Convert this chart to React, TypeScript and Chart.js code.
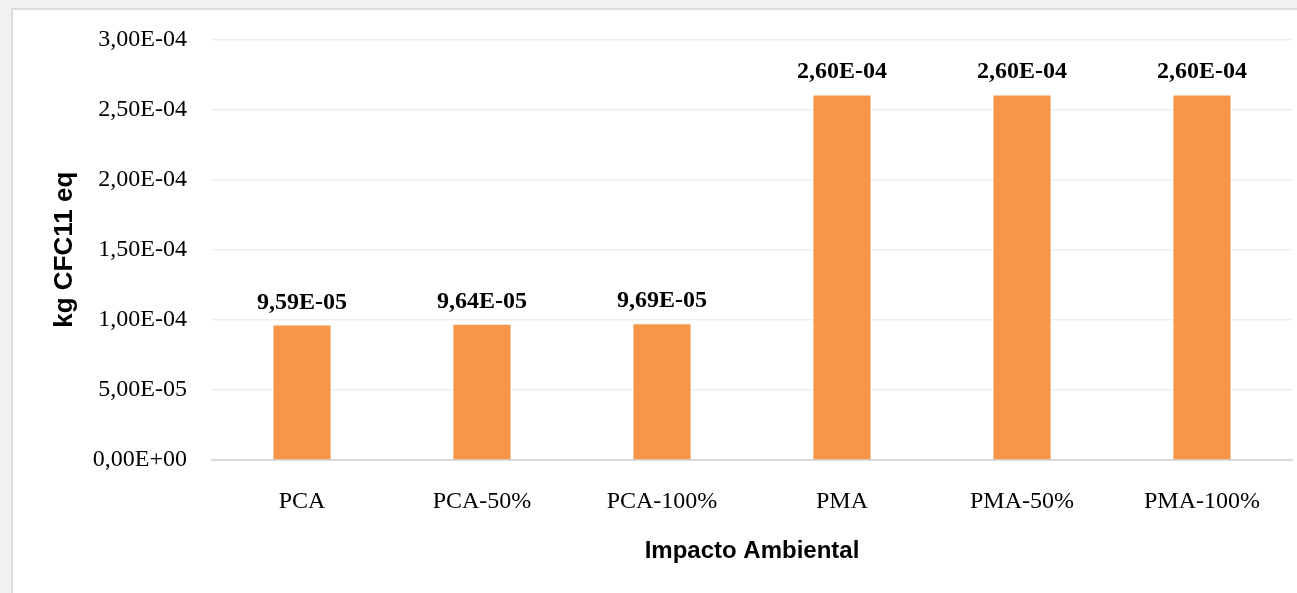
import React, { useEffect, useRef } from "react";
import { Chart, registerables } from "chart.js";

Chart.register(...registerables);

// Ozone depletion per mix (kg CFC-11 eq)
const categories: string[] = ["PCA", "PCA-50%", "PCA-100%", "PMA", "PMA-50%", "PMA-100%"];
const ozoneValues: number[] = [9.59e-5, 9.64e-5, 9.69e-5, 2.6e-4, 2.6e-4, 2.6e-4];
const yTickMin = 0;
const yTickMax = 3e-4;
const yTickStep = 5e-5;

const BAR_COLOR = "#F79646";
const SERIF = "'Liberation Serif', 'Times New Roman', serif";
const SANS = "'Liberation Sans', Arial, sans-serif";

// Excel-like scientific notation with a decimal comma: 9,59E-05
function sci(v: number): string {
  if (v === 0) return "0,00E+00";
  const [mant, exp] = v.toExponential(2).split("e");
  const e = parseInt(exp, 10);
  const sign = e < 0 ? "-" : "+";
  const abs = Math.abs(e).toString().padStart(2, "0");
  return `${mant.replace(".", ",")}E${sign}${abs}`;
}

const valueLabels = {
  id: "valueLabels",
  afterDatasetsDraw(chart: any) {
    const { ctx } = chart;
    const meta = chart.getDatasetMeta(0);
    const data = chart.data.datasets[0].data as number[];
    ctx.save();
    ctx.font = `bold 24px ${SERIF}`;
    ctx.fillStyle = "#000000";
    ctx.textAlign = "center";
    ctx.textBaseline = "alphabetic";
    meta.data.forEach((bar: any, i: number) => {
      ctx.fillText(sci(data[i]), bar.x, bar.y - 17);
    });
    ctx.restore();
  },
};

export default function App() {
  const canvasRef = useRef<HTMLCanvasElement | null>(null);

  useEffect(() => {
    if (!canvasRef.current) return;
    const chart = new Chart(canvasRef.current, {
      type: "bar",
      data: {
        labels: categories,
        datasets: [
          {
            data: ozoneValues,
            backgroundColor: BAR_COLOR,
            borderWidth: 0,
            categoryPercentage: 1,
            barPercentage: 0.317,
          },
        ],
      },
      options: {
        responsive: false,
        animation: false,
        layout: { padding: { left: 0, right: 5, top: 38, bottom: 0 } },
        plugins: {
          legend: { display: false },
          tooltip: { enabled: false },
        },
        scales: {
          x: {
            grid: { display: false, drawTicks: false },
            border: { display: true, color: "#d9d9d9", width: 2 },
            ticks: {
              color: "#000000",
              font: { family: SERIF, size: 24 },
              padding: 27,
              maxRotation: 0,
              autoSkip: false,
            },
            title: {
              display: true,
              text: "Impacto Ambiental",
              color: "#000000",
              font: { family: SANS, size: 24, weight: "bold" },
              padding: { top: 0, bottom: 27 },
            },
            afterFit(scale: any) {
              scale.height = 133;
            },
          },
          y: {
            min: yTickMin,
            max: yTickMax,
            grid: { color: "#efefef", lineWidth: 1.5, drawTicks: false },
            border: { display: false },
            ticks: {
              stepSize: yTickStep,
              color: "#000000",
              font: { family: SERIF, size: 24 },
              padding: 25,
              callback: (v: any) => sci(Number(v)),
            },
            title: {
              display: true,
              text: "kg CFC11 eq",
              color: "#000000",
              font: { family: SANS, size: 26, weight: "bold" },
              padding: { top: 49, bottom: 0 },
            },
            afterFit(scale: any) {
              scale.width = 212;
            },
          },
        },
      },
      plugins: [valueLabels],
    });
    return () => chart.destroy();
  }, []);

  return (
    <div
      style={{
        position: "fixed",
        left: 0,
        top: 0,
        width: 1297,
        height: 593,
        background: "#f1f1f1",
        overflow: "hidden",
      }}
    >
      <div
        style={{
          position: "absolute",
          left: 11,
          top: 8,
          right: 0,
          bottom: -4,
          background: "#ffffff",
          borderLeft: "2px solid #dcdcdc",
          borderTop: "2px solid #dcdcdc",
        }}
      />
      <canvas
        ref={canvasRef}
        width={1297}
        height={593}
        style={{ position: "absolute", left: 0, top: 0 }}
      />
    </div>
  );
}
